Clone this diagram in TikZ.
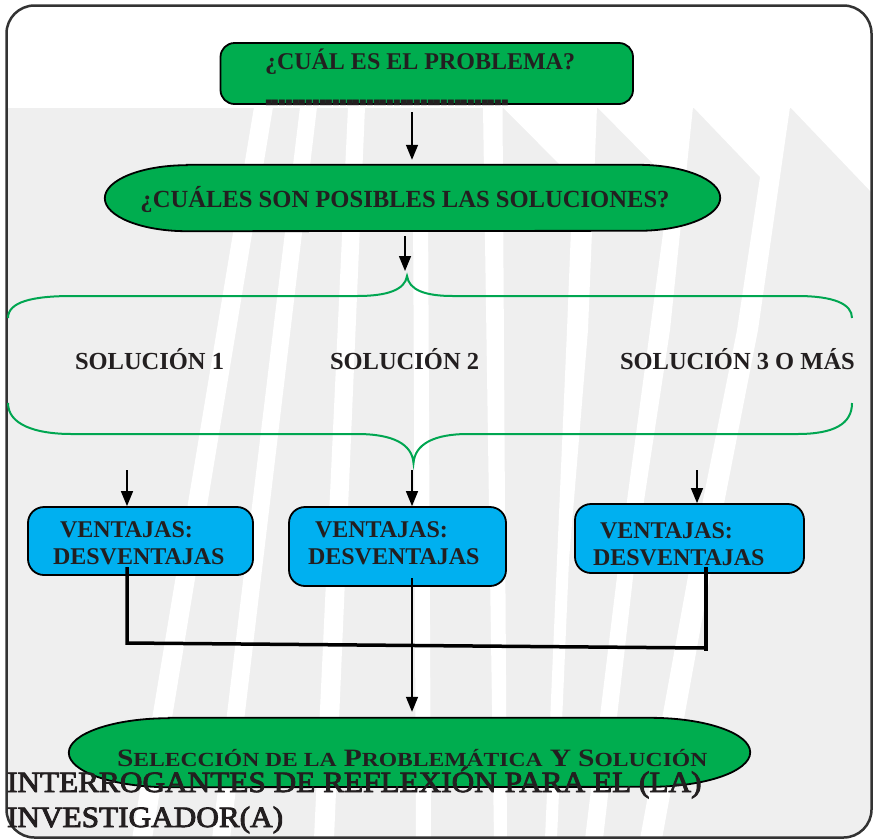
\documentclass[tikz,border=0pt]{standalone}
\usepackage{fontspec}
\setmainfont{Liberation Serif}
\usetikzlibrary{arrows.meta}

\definecolor{boxgreen}{RGB}{0,173,79}
\definecolor{bracegreen}{RGB}{0,166,81}
\definecolor{boxblue}{RGB}{0,176,240}
\definecolor{ink}{RGB}{35,31,32}
\definecolor{panel}{RGB}{239,239,239}
\definecolor{framegrey}{RGB}{51,51,51}

% small-caps imitation: capital and reduced letters
\newcommand\capL[1]{{\fontsize{25}{30}\selectfont #1}}
\newcommand\capS[1]{{\fontsize{20}{24}\selectfont #1}}
% one dash of the blank line
\newcommand\blankdash{\scalebox{1}[7]{\_}\kern1pt}
\newcommand\blankfour{\blankdash\blankdash\blankdash\blankdash}

\tikzset{
  lbl/.style={inner sep=0pt, outer sep=0pt, text=ink,
    font=\bfseries\fontsize{24}{28}\selectfont},
  sollbl/.style={lbl, font=\bfseries\fontsize{24.5}{28}\selectfont},
  footlbl/.style={inner sep=0pt, outer sep=0pt, text=ink,
    font=\fontsize{29.5}{34}\selectfont\addfontfeature{FakeBold=3}},
  probbox/.style={fill=boxgreen, draw=black, line width=1.8pt,
    rounded corners=14pt, inner sep=0pt},
  pill/.style={fill=boxgreen, draw=black, line width=1.8pt},
  vbox/.style={fill=boxblue, draw=black, line width=1.8pt,
    rounded corners=16pt, inner sep=0pt},
  flow/.style={line width=1.5pt, -{Triangle[length=15pt,width=12pt]}},
  joinline/.style={line width=3.5pt, line join=miter},
  bracestyle/.style={draw=bracegreen, line width=2pt},
}

\begin{document}
\begin{tikzpicture}[x=1pt, y=-1pt]
\useasboundingbox (0,0) rectangle (874,839);

% ---- striped grey panel behind the chart ----
\begin{scope}
  \clip[rounded corners=28pt] (6.5,5.5) rectangle (871.5,837.5);
  \fill[panel] (0,108) rectangle (874,839);
  \fill[white] (254,107) -- (273,107) -- (152,839) -- (132,839) -- cycle;
  \fill[white] (300,107) -- (317,107) -- (230,839) -- (212,839) -- cycle;
  \fill[white] (348,107) -- (365,107) -- (334,839) -- (314,839) -- cycle;
  \fill[white] (413,200) -- (428,200) -- (431,839) -- (416,839) -- cycle;
  \fill[white] (483,107) -- (502.5,107) -- (507,839) -- (494,839) -- cycle;
  \fill[white] (502.5,107) -- (573,178) -- (567,330) -- (557,560) -- (545,839)
     -- (557,839) -- (569,560) -- (588,330) -- (597,107) -- cycle;
  \fill[white] (597,107) -- (670,181) -- (650,330) -- (619,560) -- (585,839)
     -- (603,839) -- (635,560) -- (670,330) -- (693,107) -- cycle;
  \fill[white] (693,107) -- (760,177) -- (737,330) -- (691,560) -- (640,839)
     -- (662,839) -- (713,560) -- (758,330) -- (790,107) -- cycle;
  \fill[white] (790,107) -- (874,195) -- (874,107) -- cycle;
\end{scope}
\draw[framegrey, line width=2.5pt, rounded corners=28pt]
  (6.5,5.5) rectangle (871.5,837.5);

% ---- braces around the solutions ----
\coordinate (bracetop) at (407,276);
\coordinate (bracebot) at (413.5,463);
\draw[bracestyle] (8,318) .. controls (8,302) and (32,296) .. (72,296)
  -- (357,296) .. controls (387,296) and (405,290) .. (bracetop)
  .. controls (409,290) and (425,296) .. (453,296)
  -- (797,296) .. controls (834,296) and (852,304) .. (852,318);
\draw[bracestyle] (8,403) .. controls (8,424) and (34,434) .. (72,434)
  -- (357,434) .. controls (393,434) and (412,444) .. (bracebot)
  .. controls (415,444) and (434,434) .. (468,434)
  -- (797,434) .. controls (834,434) and (852,424) .. (852,403);

% ---- shapes ----
\node[probbox, minimum width=412.5pt, minimum height=61pt] (prob) at (426.75,73.5) {};

\node[inner sep=0pt, minimum width=615pt, minimum height=66pt] (sols) at (412.5,198) {};
\path[pill] ([xshift=82pt]sols.north west) -- ([xshift=-82pt]sols.north east)
  arc[start angle=-90, end angle=90, x radius=82, y radius=33]
  -- ([xshift=82pt]sols.south west)
  arc[start angle=90, end angle=270, x radius=82, y radius=33] -- cycle;

\node[vbox, minimum width=225pt, minimum height=68pt] (v1) at (140.5,541) {};
\node[vbox, minimum width=217pt, minimum height=79pt] (v2) at (397.5,546.5) {};
\node[vbox, minimum width=229pt, minimum height=69pt] (v3) at (689.5,538.5) {};

\node[inner sep=0pt, minimum width=681pt, minimum height=69pt] (sel) at (409.5,752.5) {};
\path[pill] ([xshift=100pt]sel.north west) -- ([xshift=-100pt]sel.north east)
  arc[start angle=-90, end angle=90, x radius=100, y radius=34.5]
  -- ([xshift=100pt]sel.south west)
  arc[start angle=90, end angle=270, x radius=100, y radius=34.5] -- cycle;

% ---- connectors ----
\coordinate (p1) at (412,112);
\draw[flow, shorten >=5pt] (p1) -- (p1 |- sols.north);
\coordinate (p2) at (405,236);
\draw[flow, shorten >=5pt] (p2) -- (p2 |- bracetop);

\coordinate (a1) at (127,470);
\coordinate (a2) at (412,470);
\coordinate (a3) at (697,470);
\draw[flow] (a1) -- (a1 |- v1.north);
\draw[flow] (a2) -- (a2 |- v2.north);
\draw[flow] (a3) -- (a3 |- v3.north);

\coordinate (v1out) at (127,567);
\coordinate (v3out) at (706,567);
\coordinate (jleft) at (127,643);
\coordinate (jright) at (706,648);
\coordinate (jend) at (706,651);
\draw[joinline] (v1out) -- (jleft) -- (jright);
\draw[joinline] (v3out) -- (jend);

\coordinate (v2out) at (412,578);
\draw[flow, shorten >=6pt] (v2out) -- (v2out |- sel.north);

% ---- texts ----
\node[lbl, anchor=base west] (probq) at (265,69) {¿CUÁL ES EL PROBLEMA?};
\node[lbl, anchor=base west, font=\bfseries\fontsize{11.5}{12}\selectfont] (probblank) at (266,94)
  {\blankfour\blankfour\blankfour\blankfour\blankfour\blankfour\blankfour\blankfour\blankfour};

\node[lbl, anchor=base, font=\bfseries\fontsize{24.6}{28}\selectfont] (solsq) at (405,207)
  {¿CUÁLES SON POSIBLES LAS SOLUCIONES?};

\node[sollbl, anchor=base west] (s1) at (75,369) {SOLUCIÓN 1};
\node[sollbl, anchor=base west] (s2) at (330,369) {SOLUCIÓN 2};
\node[sollbl, anchor=base west] (s3) at (620,369) {SOLUCIÓN 3 O MÁS};

\node[lbl, anchor=base west] (v1a) at (60,537) {VENTAJAS:};
\node[lbl, anchor=base west] (v1b) at (53,564) {DESVENTAJAS};
\node[lbl, anchor=base west] (v2a) at (315,537) {VENTAJAS:};
\node[lbl, anchor=base west] (v2b) at (308,564) {DESVENTAJAS};
\node[lbl, anchor=base west] (v3a) at (600,538) {VENTAJAS:};
\node[lbl, anchor=base west] (v3b) at (593,565) {DESVENTAJAS};

\node[lbl, anchor=base west] (selq) at (117,766)
  {\scalebox{1.18}[1]{\capL{S}\capS{ELECCIÓN DE LA} \capL{P}\capS{ROBLEMÁTICA} \capL{Y} \capL{S}\capS{OLUCIÓN}}};

\node[footlbl, anchor=base west] (foot1) at (7,792)
  {\scalebox{1.06}[1]{INTERROGANTES DE REFLEXIÓN PARA EL (LA)}};
\node[footlbl, anchor=base west] (foot2) at (7,827)
  {\scalebox{1.06}[1]{INVESTIGADOR(A)}};
\end{tikzpicture}
\end{document}
